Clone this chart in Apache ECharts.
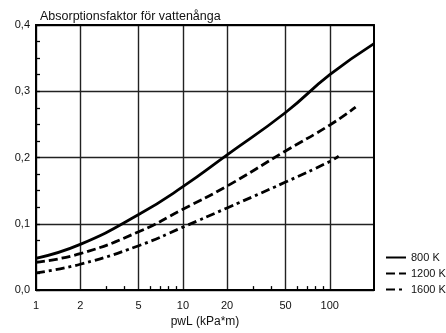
<!DOCTYPE html>
<html>
<head>
<meta charset="utf-8">
<script src="https://cdn.jsdelivr.net/npm/echarts@6/dist/echarts.min.js"></script>
<style>
	html, body { margin: 0; padding: 0; background: #fff; }
	#chart { width: 446px; height: 333px; }
</style>
</head>
<body>
<div id="chart"></div>
<script>
// pwL (kPa*m) och absorptionsfaktor per temperatur
const x800 = [1, 2, 5, 10, 20, 50, 100, 200];
const y800 = [0.048, 0.069, 0.114, 0.156, 0.204, 0.268, 0.325, 0.372];
const x1200 = [1, 2, 5, 10, 20, 50, 100, 150];
const y1200 = [0.042, 0.055, 0.088, 0.122, 0.157, 0.210, 0.249, 0.276];
const x1600 = [1, 2, 5, 10, 20, 50, 100, 115];
const y1600 = [0.026, 0.039, 0.067, 0.095, 0.124, 0.163, 0.194, 0.202];

const seriesNames = ["800 K", "1200 K", "1600 K"];
const xTickLabels = [1, 2, 5, 10, 20, 50, 100];
const xMinorTicks = [3, 4, 6, 7, 8, 9, 30, 40, 60, 70, 80, 90];
const xMax = 200;

const FONT = "Liberation Sans";
const lg = v => Math.log10(v);
const pairs = (xs, ys) => xs.map((x, i) => [lg(x), ys[i]]);

const frameLine = { show: true, onZero: false, lineStyle: { color: "#000", width: 2 } };
const gridLine = { show: true, lineStyle: { color: "#222", width: 1.4 } };
const tickLine = { color: "#000", width: 1.3 };

function makeSeries(name, data, dash) {
	return {
		name,
		type: "line",
		data,
		smooth: 0.5,
		symbol: "none",
		lineStyle: { color: "#000", width: 2.8, type: dash, cap: "butt" },
		itemStyle: { color: "#000" }
	};
}

// extra axes only for frame edges and small ticks (ticks need the axis line on)
function bareX(position, extra) {
	return Object.assign({
		type: "value", min: 0, max: lg(xMax), position,
		axisLine: frameLine, axisLabel: { show: false },
		axisTick: { show: false }, splitLine: { show: false }
	}, extra);
}
function bareY(position, extra) {
	return Object.assign({
		type: "value", min: 0, max: 0.4, position,
		axisLine: frameLine, axisLabel: { show: false },
		axisTick: { show: false }, splitLine: { show: false }
	}, extra);
}

const chart = echarts.init(document.getElementById("chart"), null, { renderer: "canvas" });

chart.setOption({
	animation: false,
	backgroundColor: "#fff",
	title: {
		text: "Absorptionsfaktor för vattenånga",
		left: 35,
		top: 5,
		textStyle: { fontFamily: FONT, fontSize: 12.5, fontWeight: "normal", color: "#111" }
	},
	grid: { left: 36, right: 72, top: 25, bottom: 40 },
	legend: {
		orient: "vertical",
		left: 380,
		top: 247,
		itemWidth: 20,
		itemHeight: 10,
		itemGap: 5,
		data: seriesNames,
		itemStyle: { opacity: 0 },
		textStyle: { fontFamily: FONT, fontSize: 11, color: "#111" }
	},
	xAxis: [
		{
			type: "value",
			min: 0,
			max: lg(xMax),
			position: "bottom",
			name: "pwL (kPa*m)",
			nameLocation: "middle",
			nameGap: 24,
			nameTextStyle: { fontFamily: FONT, fontSize: 12, color: "#111" },
			axisLine: frameLine,
			axisTick: { show: false, customValues: xTickLabels.map(lg) },
			axisLabel: {
				customValues: xTickLabels.map(lg),
				formatter: v => String(Math.round(Math.pow(10, v))),
				margin: 10,
				fontFamily: FONT,
				fontSize: 11,
				color: "#111"
			},
			splitLine: gridLine
		},
		bareX("bottom", {
			axisTick: { show: true, inside: true, length: 4, customValues: xMinorTicks.map(lg), lineStyle: tickLine }
		}),
		bareX("top", {})
	],
	yAxis: [
		{
			type: "value",
			min: 0,
			max: 0.4,
			interval: 0.1,
			position: "left",
			axisLine: frameLine,
			axisTick: { show: false },
			axisLabel: {
				formatter: v => v.toFixed(1).replace(".", ","),
				margin: 6,
				fontFamily: FONT,
				fontSize: 11,
				color: "#111"
			},
			splitLine: gridLine
		},
		bareY("left", {
			interval: 0.025,
			axisTick: { show: true, inside: true, length: 4, lineStyle: tickLine }
		}),
		bareY("right", {})
	],
	series: [
		makeSeries(seriesNames[0], pairs(x800, y800), "solid"),
		makeSeries(seriesNames[1], pairs(x1200, y1200), [9, 4]),
		makeSeries(seriesNames[2], pairs(x1600, y1600), [9, 4, 3, 4])
	]
});
</script>
</body>
</html>
